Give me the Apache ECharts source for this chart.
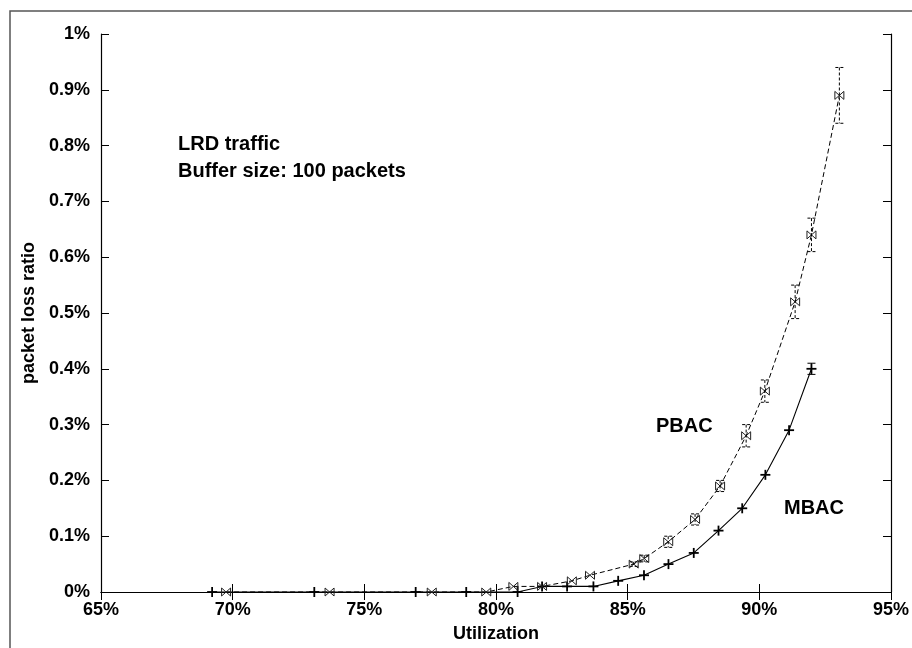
<!DOCTYPE html>
<html><head><meta charset="utf-8">
<script src="https://cdn.jsdelivr.net/npm/echarts/dist/echarts.min.js"></script>
<style>html,body{margin:0;padding:0;background:#fff}#c{width:912px;height:648px}</style>
</head><body><div id="c"></div>
<script>
const xTickLabels = ['65%','70%','75%','80%','85%','90%','95%'];
const yTickLabels = ['0%','0.1%','0.2%','0.3%','0.4%','0.5%','0.6%','0.7%','0.8%','0.9%','1%'];

const mbacUtil = [69.22, 73.1, 76.95, 78.87, 80.82, 81.75, 82.7, 83.7, 84.64, 85.62, 86.55, 87.51, 88.45, 89.35, 90.23, 91.13, 91.98];
const mbacLoss = [0, 0, 0, 0, 0, 0.01, 0.01, 0.01, 0.02, 0.03, 0.05, 0.07, 0.11, 0.15, 0.21, 0.29, 0.40];
const mbacErr  = [0, 0, 0, 0, 0, 0, 0, 0, 0, 0, 0, 0, 0, 0, 0, 0, 0.01];

const pbacUtil = [69.75, 73.68, 77.56, 79.63, 80.66, 81.75, 82.88, 83.57, 85.23, 85.63, 86.54, 87.56, 88.51, 89.5, 90.21, 91.36, 91.98, 93.04];
const pbacLoss = [0, 0, 0, 0, 0.01, 0.01, 0.02, 0.03, 0.05, 0.06, 0.09, 0.13, 0.19, 0.28, 0.36, 0.52, 0.64, 0.89];
const pbacErr  = [0, 0, 0, 0, 0, 0, 0, 0, 0.004, 0.006, 0.01, 0.01, 0.01, 0.02, 0.02, 0.03, 0.03, 0.05];

const FONT = '"Liberation Sans", Arial, sans-serif';

function rows(xs, ys, es){ return xs.map((x,i)=>[x, ys[i], es[i]]); }

function markerItem(kind, dashed){
  return function(params, api){
    const x = api.value(0), y = api.value(1), e = api.value(2);
    const p = api.coord([x, y]);
    const ch = [];
    if (kind === 'plus'){
      const st = {stroke:'#000', lineWidth:1.8};
      ch.push({type:'line', shape:{x1:p[0]-5, y1:p[1], x2:p[0]+5, y2:p[1]}, style:st});
      ch.push({type:'line', shape:{x1:p[0], y1:p[1]-5, x2:p[0], y2:p[1]+5}, style:st});
    } else {
      const st = {stroke:'#222', lineWidth:1};
      const w = 4.5, h = 4;
      ch.push({type:'line', shape:{x1:p[0]-w, y1:p[1]-h, x2:p[0]+w, y2:p[1]+h}, style:st});
      ch.push({type:'line', shape:{x1:p[0]-w, y1:p[1]+h, x2:p[0]+w, y2:p[1]-h}, style:st});
      ch.push({type:'line', shape:{x1:p[0]-w, y1:p[1]-h, x2:p[0]-w, y2:p[1]+h}, style:st});
      ch.push({type:'line', shape:{x1:p[0]+w, y1:p[1]-h, x2:p[0]+w, y2:p[1]+h}, style:st});
    }
    if (e > 0){
      const t = api.coord([x, y + e]), b = api.coord([x, y - e]);
      const es = {stroke:'#000', lineWidth:1, lineDash: dashed ? [3,2] : null};
      ch.push({type:'line', shape:{x1:t[0], y1:t[1], x2:b[0], y2:b[1]}, style:es});
      ch.push({type:'line', shape:{x1:t[0]-4, y1:t[1], x2:t[0]+4, y2:t[1]}, style:es});
      ch.push({type:'line', shape:{x1:b[0]-4, y1:b[1], x2:b[0]+4, y2:b[1]}, style:es});
    }
    return {type:'group', children:ch};
  };
}

const axisCommon = {
  type:'value',
  axisLine:{show:true, lineStyle:{color:'#000', width:1.2}},
  axisTick:{show:true, inside:true, length:8, lineStyle:{color:'#000', width:1}},
  splitLine:{show:false}
};

const chart = echarts.init(document.getElementById('c'), null, {renderer:'canvas'});
chart.setOption({
  backgroundColor:'#fff',
  animation:false,
  grid:{left:101, right:20, top:34, bottom:50, containLabel:false},
  xAxis:[
    Object.assign({}, axisCommon, {
      min:65, max:95, interval:5, position:'bottom',
      axisLabel:{show:true, margin:9, color:'#000', fontFamily:FONT, fontWeight:'bold', fontSize:18,
        showMinLabel:true, showMaxLabel:true,
        formatter:(v,i)=>xTickLabels[Math.round((v-65)/5)]},
      name:'Utilization', nameLocation:'middle', nameGap:33,
      nameTextStyle:{color:'#000', fontFamily:FONT, fontWeight:'bold', fontSize:18}
    }),
    Object.assign({}, axisCommon, {
      min:65, max:95, interval:5, position:'top', axisLabel:{show:false}
    })
  ],
  yAxis:[
    Object.assign({}, axisCommon, {
      min:0, max:1, interval:0.1, position:'left',
      axisLabel:{show:true, margin:11, color:'#000', fontFamily:FONT, fontWeight:'bold', fontSize:18,
        showMinLabel:true, showMaxLabel:true,
        formatter:(v,i)=>yTickLabels[Math.round(v*10)]},
      name:'packet loss ratio', nameLocation:'middle', nameGap:61, nameRotate:90,
      nameTextStyle:{color:'#000', fontFamily:FONT, fontWeight:'bold', fontSize:18}
    }),
    Object.assign({}, axisCommon, {
      min:0, max:1, interval:0.1, position:'right', axisLabel:{show:false}
    })
  ],
  graphic:[
    {type:'rect', silent:true, shape:{x:10, y:11, width:1000, height:1000},
      style:{fill:'none', stroke:'#555', lineWidth:1.5}},
    {type:'text', left:178, top:134, style:{text:'LRD traffic', font:'bold 20px ' + FONT, fill:'#000'}},
    {type:'text', left:178, top:161, style:{text:'Buffer size: 100 packets', font:'bold 20px ' + FONT, fill:'#000'}},
    {type:'text', left:656, top:416, style:{text:'PBAC', font:'bold 20px ' + FONT, fill:'#000'}},
    {type:'text', left:784, top:498, style:{text:'MBAC', font:'bold 20px ' + FONT, fill:'#000'}}
  ],
  series:[
    {type:'line', name:'MBAC', data: mbacUtil.map((x,i)=>[x, mbacLoss[i]]), symbol:'none',
      lineStyle:{color:'#000', width:1.1}, z:2},
    {type:'line', name:'PBAC', data: pbacUtil.map((x,i)=>[x, pbacLoss[i]]), symbol:'none',
      lineStyle:{color:'#000', width:1, type:[5,3]}, z:2},
    {type:'custom', name:'MBAC pts', data: rows(mbacUtil, mbacLoss, mbacErr),
      renderItem: markerItem('plus', false), encode:{x:0, y:1}, z:3},
    {type:'custom', name:'PBAC pts', data: rows(pbacUtil, pbacLoss, pbacErr),
      renderItem: markerItem('bowtie', true), encode:{x:0, y:1}, z:3}
  ]
});
</script>
</body></html>
